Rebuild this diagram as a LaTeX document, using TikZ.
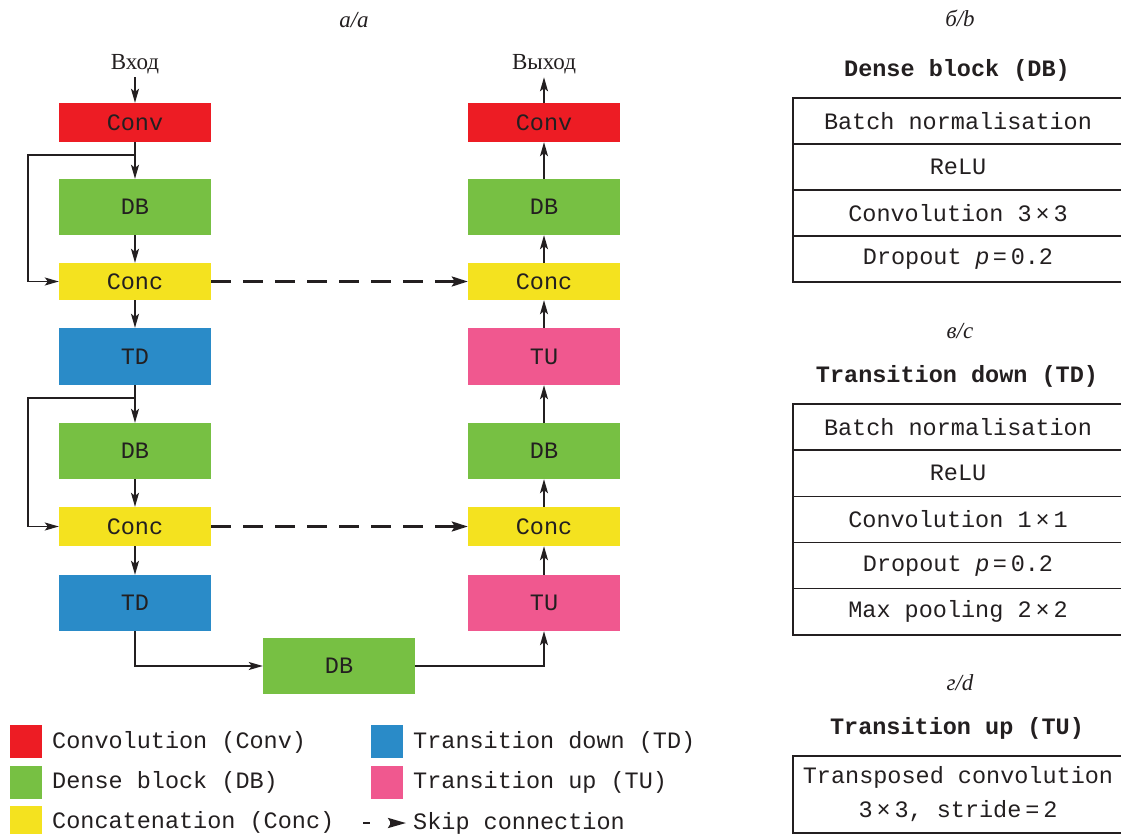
\documentclass[tikz,border=0pt]{standalone}
\usepackage{fontspec}
\setmainfont{Liberation Serif}
\setmonofont{Liberation Mono}
\newfontfamily\lsans{Liberation Sans}
\usetikzlibrary{arrows.meta}
\definecolor{cred}{HTML}{ED1C24}
\definecolor{cgreen}{HTML}{77C043}
\definecolor{cyellow}{HTML}{F4E21F}
\definecolor{cblue}{HTML}{2A8BC8}
\definecolor{cpink}{HTML}{F0588F}
\definecolor{txt}{HTML}{231F20}
\newcommand{\mono}{\fontsize{23.5}{28}\selectfont\ttfamily}
\newcommand{\serf}{\fontsize{23}{28}\selectfont\rmfamily}
\newcommand{\pv}{{\lsans\itshape p}}
\tikzset{
  blk/.style={minimum width=152pt, minimum height=#1, inner sep=0pt, font=\mono, text=txt, draw=none},
  arr/.style={line width=1.3pt, draw=txt, -{Stealth[length=14pt,width=8pt,inset=3pt]}},
  skip/.style={line width=2.6pt, draw=txt, dash pattern=on 20pt off 12pt, -{Stealth[length=16pt,width=10pt,inset=3pt]}},
  row/.style={draw=txt, line width=1.3pt, minimum width=330pt, minimum height=#1, inner sep=0pt, font=\mono, text=txt, align=center},
  ttl/.style={font=\mono\bfseries, text=txt},
  lab/.style={font=\serf\itshape, text=txt},
  leg/.style={minimum width=32pt, minimum height=33pt, inner sep=0pt},
  legt/.style={anchor=west, font=\mono, text=txt, inner sep=0pt}
}
\begin{document}
\begin{tikzpicture}[x=1pt,y=-1pt]
\useasboundingbox (0,0) rectangle (1121,834);
% part a
\node[lab] (la) at (354,20) {а/a};
\node[font=\serf, text=txt] (inL) at (135,64) {Вход};
\node[font=\serf, text=txt] (outR) at (544,64) {Выход};
\node[blk=39pt, fill=cred] (convL) at (135,122.5) {Conv};
\node[blk=56pt, fill=cgreen] (dbL1) at (135,207) {DB};
\node[blk=37pt, fill=cyellow] (concL1) at (135,281.5) {Conc};
\node[blk=57pt, fill=cblue] (tdL1) at (135,356.5) {TD};
\node[blk=56pt, fill=cgreen] (dbL2) at (135,451) {DB};
\node[blk=39pt, fill=cyellow] (concL2) at (135,526.5) {Conc};
\node[blk=56pt, fill=cblue] (tdL2) at (135,603) {TD};
\node[blk=56pt, fill=cgreen] (dbB) at (339,666) {DB};
\node[blk=56pt, fill=cpink] (tuR2) at (544,603) {TU};
\node[blk=39pt, fill=cyellow] (concR2) at (544,526.5) {Conc};
\node[blk=56pt, fill=cgreen] (dbR2) at (544,451) {DB};
\node[blk=57pt, fill=cpink] (tuR1) at (544,356.5) {TU};
\node[blk=37pt, fill=cyellow] (concR1) at (544,281.5) {Conc};
\node[blk=56pt, fill=cgreen] (dbR1) at (544,207) {DB};
\node[blk=39pt, fill=cred] (convR) at (544,122.5) {Conv};
% left column
\draw[arr] (inL.south) -- (convL.north);
\draw[arr] (convL.south) -- (dbL1.north);
\draw[arr] (dbL1.south) -- (concL1.north);
\draw[arr] (concL1.south) -- (tdL1.north);
\draw[arr] (tdL1.south) -- (dbL2.north);
\draw[arr] (dbL2.south) -- (concL2.north);
\draw[arr] (concL2.south) -- (tdL2.north);
\coordinate (s1) at (135,155);
\coordinate (s1a) at (28,155);
\draw[arr] (s1) -- (s1a) |- (concL1.west);
\coordinate (s2) at (135,398);
\coordinate (s2a) at (28,398);
\draw[arr] (s2) -- (s2a) |- (concL2.west);
\draw[arr] (tdL2.south) |- (dbB.west);
\draw[arr] (dbB.east) -| (tuR2.south);
% right column
\draw[arr] (tuR2.north) -- (concR2.south);
\draw[arr] (concR2.north) -- (dbR2.south);
\draw[arr] (dbR2.north) -- (tuR1.south);
\draw[arr] (tuR1.north) -- (concR1.south);
\draw[arr] (concR1.north) -- (dbR1.south);
\draw[arr] (dbR1.north) -- (convR.south);
\draw[arr] (convR.north) -- (outR.south);
% skip connections
\draw[skip] (concL1.east) -- (concR1.west);
\draw[skip] (concL2.east) -- (concR2.west);
% legend
\node[leg, fill=cred] (lg1) at (26,741) {};
\node[leg, fill=cgreen] (lg2) at (26,782) {};
\node[leg, fill=cyellow] (lg3) at (26,822) {};
\node[leg, fill=cblue] (lg4) at (387,741) {};
\node[leg, fill=cpink] (lg5) at (387,782) {};
\node[legt] (lt1) at (52,742) {Convolution (Conv)};
\node[legt] (lt2) at (52,782) {Dense block (DB)};
\node[legt] (lt3) at (52,822) {Concatenation (Conc)};
\node[legt] (lt4) at (413,742) {Transition down (TD)};
\node[legt] (lt5) at (413,782) {Transition up (TU)};
\node[legt] (lt6) at (413,823) {Skip connection};
\coordinate (lsa) at (363,823);
\draw[line width=2.6pt, draw=txt, dash pattern=on 7pt off 20pt, shorten >=7pt, -{Stealth[length=18pt,width=10pt,inset=3pt]}] (lsa) -- (lt6.west);
% part b
\node[lab] (lb) at (960,18) {б/b};
\node[ttl] (tb) at (957,70) {Dense block (DB)};
\node[row=46pt] (b1) at (958,121) {Batch normalisation};
\node[row=46pt] (b2) at (958,167) {ReLU};
\node[row=46pt] (b3) at (958,213) {Convolution 3\,×\,3};
\node[row=46pt] (b4) at (958,259) {Dropout \pv\,=\,0.2};
% part c
\node[lab] (lc) at (960,331) {в/c};
\node[ttl] (tc) at (957,376) {Transition down (TD)};
\node[row=46.2pt] (c1) at (958,427) {Batch normalisation};
\node[row=46.2pt] (c2) at (958,473.2) {ReLU};
\node[row=46.2pt] (c3) at (958,519.4) {Convolution 1\,×\,1};
\node[row=46.2pt] (c4) at (958,565.6) {Dropout \pv\,=\,0.2};
\node[row=46.2pt] (c5) at (958,611.8) {Max pooling 2\,×\,2};
% part d
\node[lab] (ld) at (960,683) {г/d};
\node[ttl] (td) at (957,728) {Transition up (TU)};
\node[row=77pt, font=\fontsize{23.5}{34}\selectfont\ttfamily] (d1) at (958,794.5) {Transposed convolution\\3\,×\,3, stride\,=\,2};
\end{tikzpicture}
\end{document}
